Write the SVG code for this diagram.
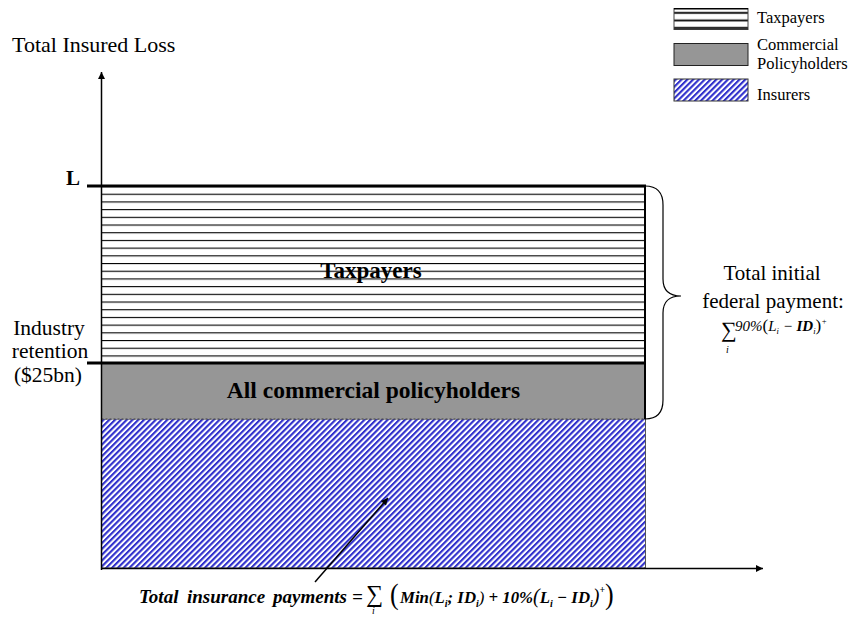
<svg xmlns="http://www.w3.org/2000/svg" width="850" height="617" viewBox="0 0 850 617">
<style>
.t{font-family:"Liberation Serif","Times New Roman",serif;fill:#000}
.b{font-weight:bold}
.bi{font-weight:bold;font-style:italic}
.ax{stroke:#000;stroke-width:1.5;fill:none}
</style>
<defs>
<pattern id="hstripe" patternUnits="userSpaceOnUse" x="0" y="186" width="10" height="7.7">
<rect x="0" y="0" width="10" height="7.7" fill="#fff"/>
<rect x="0" y="-1.1" width="10" height="2.2" fill="#000"/>
</pattern>
<pattern id="legstripe" patternUnits="userSpaceOnUse" x="0" y="8.5" width="10" height="7.5">
<rect x="0" y="0" width="10" height="7.5" fill="#fff"/>
<rect x="0" y="3.5" width="10" height="1.8" fill="#000"/>
</pattern>
<pattern id="diag" patternUnits="userSpaceOnUse" width="4.1" height="4.1" patternTransform="rotate(45)">
<rect x="0" y="0" width="4.1" height="4.1" fill="#fff"/>
<rect x="0" y="0" width="2.1" height="4.1" fill="#3030cc"/>
</pattern>
<marker id="ah" viewBox="0 0 10 10" refX="10" refY="5" markerWidth="9" markerHeight="7" markerUnits="userSpaceOnUse" orient="auto">
<path d="M0,0 L10,5 L0,10 Z" fill="#000"/>
</marker>
</defs>

<g id="legend">
<g id="legend-taxpayers">
<rect x="674" y="8.5" width="74" height="21" fill="url(#legstripe)" stroke="#444" stroke-width="1"/>
<line x1="674" y1="8.8" x2="748" y2="8.8" stroke="#000" stroke-width="1.5"/>
<line x1="674" y1="28.6" x2="748" y2="28.6" stroke="#333" stroke-width="1.6"/>
<text class="t" x="757" y="22.5" font-size="16.5">Taxpayers</text>
</g>
<g id="legend-commercial">
<rect x="674" y="43.5" width="74" height="22" fill="#969696" stroke="#222" stroke-width="1"/>
<text class="t" x="757" y="50" font-size="16.5">Commercial</text>
<text class="t" x="757" y="68.5" font-size="16.5">Policyholders</text>
</g>
<g id="legend-insurers">
<rect x="674" y="79" width="74" height="22" fill="url(#diag)" stroke="#333" stroke-width="1"/>
<text class="t" x="757" y="100" font-size="16.5">Insurers</text>
</g>
</g>

<text class="t" x="12" y="52" font-size="22">Total Insured Loss</text>

<g id="insurers">
<rect x="101.5" y="419" width="544" height="149" fill="url(#diag)" stroke="#555" stroke-width="1"/>
</g>
<g id="commercial">
<rect x="101.5" y="363" width="544" height="56" fill="#969696"/>
<line x1="645" y1="363" x2="645" y2="419" stroke="#000" stroke-width="2"/>
<line x1="101.5" y1="419" x2="645.5" y2="419" stroke="#444" stroke-width="1" stroke-dasharray="2,2"/>
<text class="t b" x="373.5" y="398" font-size="23.5" text-anchor="middle">All commercial policyholders</text>
</g>
<g id="taxpayers">
<rect x="101.5" y="186" width="544" height="177" fill="url(#hstripe)"/>
<line x1="645" y1="186" x2="645" y2="363" stroke="#000" stroke-width="2"/>
<text class="t b" x="371" y="278" font-size="23" text-anchor="middle">Taxpayers</text>
</g>

<g id="connectors">
<line class="ax" x1="101.5" y1="570" x2="101.5" y2="72" marker-end="url(#ah)"/>
<line class="ax" x1="101.5" y1="568.5" x2="763" y2="568.5" marker-end="url(#ah)"/>
<line x1="87" y1="186" x2="646" y2="186" stroke="#000" stroke-width="3"/>
<line x1="87" y1="363" x2="646" y2="363" stroke="#000" stroke-width="3"/>
<path d="M645,186 Q663,186 663,205 L663,279 Q663,296 681,296 Q663,296 663,313 L663,400 Q663,419 645,419" fill="none" stroke="#000" stroke-width="1.2"/>
<line x1="315" y1="582" x2="388" y2="498" stroke="#000" stroke-width="1.5" marker-end="url(#ah)"/>
</g>

<g id="labels">
<text class="t b" x="66" y="185" font-size="21">L</text>
<text class="t" x="49" y="335" font-size="21.5" text-anchor="middle">Industry</text>
<text class="t" x="50" y="358" font-size="21.5" text-anchor="middle">retention</text>
<text class="t" x="48" y="382" font-size="21.5" text-anchor="middle">($25bn)</text>
<text class="t" x="772" y="280" font-size="21" text-anchor="middle">Total initial</text>
<text class="t" x="773" y="308" font-size="21" text-anchor="middle">federal payment:</text>
<g id="fed-formula">
<text class="t" x="721" y="337" font-size="22">∑</text>
<text class="t" x="726" y="353" font-size="10" font-style="italic">i</text>
<text class="t" x="735" y="331" font-size="15" font-style="italic">90%<tspan font-style="normal" font-size="17">(</tspan>L<tspan font-size="8.5" dy="3">i</tspan><tspan dy="-3"> − </tspan><tspan font-weight="bold">ID</tspan><tspan font-size="8.5" dy="3">i</tspan><tspan dy="-3" font-style="normal" font-size="17">)</tspan><tspan font-size="8.5" dy="-7">+</tspan></text>
</g>
<g id="ins-formula">
<text class="t bi" x="139" y="603" font-size="19">Total</text>
<text class="t bi" x="187" y="603" font-size="19">insurance</text>
<text class="t bi" x="273" y="603" font-size="19">payments</text>
<text class="t bi" x="352" y="603" font-size="19">=</text>
<text class="t" x="366" y="602" font-size="24">∑</text>
<text class="t" x="372" y="614" font-size="10" font-style="italic">i</text>
<text class="t" x="390" y="604" font-size="26" transform="translate(390 604) scale(1 1.15) translate(-390 -604)">(</text>
<text class="t bi" x="400" y="603" font-size="16.8">Min<tspan font-weight="normal">(</tspan>L<tspan font-size="10" dy="4">i</tspan><tspan dy="-4">; ID</tspan><tspan font-size="10" dy="4">i</tspan><tspan dy="-4" font-weight="normal">)</tspan> + 10%<tspan font-weight="normal" font-size="20">(</tspan>L<tspan font-size="10" dy="4">i</tspan><tspan dy="-4"> − ID</tspan><tspan font-size="10" dy="4">i</tspan><tspan dy="-4" font-weight="normal" font-size="20">)</tspan><tspan font-size="9.5" dy="-10">+</tspan></text>
<text class="t" x="605" y="604" font-size="26" transform="translate(605 604) scale(1 1.15) translate(-605 -604)">)</text>
</g>
</g>
</svg>
